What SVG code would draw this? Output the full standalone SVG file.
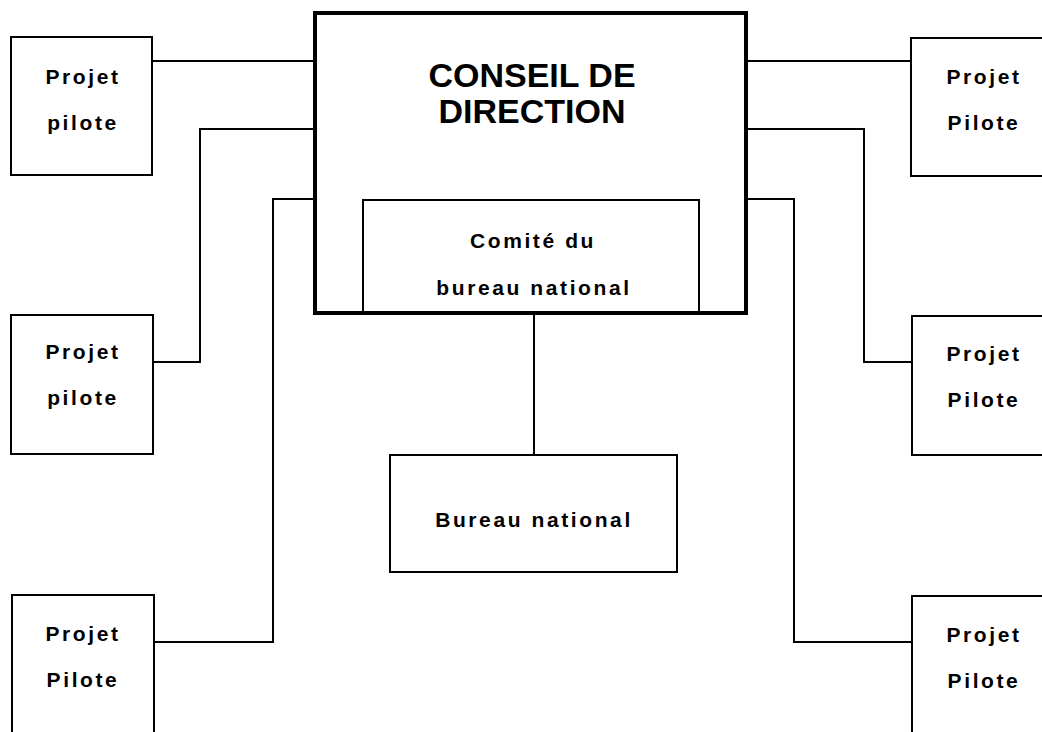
<svg xmlns="http://www.w3.org/2000/svg" width="1042" height="732" viewBox="0 0 1042 732">
<style>
.box{fill:#fff;stroke:#000;stroke-width:2}
.main{fill:#fff;stroke:#000;stroke-width:4}
.conn{fill:none;stroke:#000;stroke-width:2}
.t{font-family:"Liberation Sans",Arial,sans-serif;font-weight:bold;font-size:21px;letter-spacing:2.6px;text-anchor:middle;fill:#000}
.title{font-family:"Liberation Sans",Arial,sans-serif;font-weight:bold;font-size:34px;text-anchor:middle;fill:#000}
</style>
<rect width="1042" height="732" fill="#fff"/>
<g id="connectors">
<path class="conn" d="M152,61 H315"/>
<path class="conn" d="M153,362 H200 V129 H315"/>
<path class="conn" d="M154,642 H273 V199 H315"/>
<path class="conn" d="M746,61 H911"/>
<path class="conn" d="M746,129 H864 V362 H912"/>
<path class="conn" d="M746,199 H794 V642 H912"/>
<path class="conn" d="M534,313 V455"/>
</g>
<g id="conseil">
<rect class="main" x="315" y="13" width="431" height="300"/>
<text class="title" x="532" y="87">CONSEIL DE</text>
<text class="title" x="532" y="123">DIRECTION</text>
</g>
<g id="comite">
<path class="box" d="M363,311 V200 H699 V311"/>
<text class="t" x="533" y="248">Comité du</text>
<text class="t" x="534" y="295">bureau national</text>
</g>
<g id="bureau">
<rect class="box" x="390" y="455" width="287" height="117"/>
<text class="t" x="534" y="527">Bureau national</text>
</g>
<g id="p1">
<rect class="box" x="11" y="37" width="141" height="138"/>
<text class="t" x="83" y="84">Projet</text>
<text class="t" x="83" y="130">pilote</text>
</g>
<g id="p2">
<rect class="box" x="11" y="315" width="142" height="139"/>
<text class="t" x="83" y="359">Projet</text>
<text class="t" x="83" y="405">pilote</text>
</g>
<g id="p3">
<path class="box" d="M12,733 V595 H154 V733"/>
<text class="t" x="83" y="641">Projet</text>
<text class="t" x="83" y="687">Pilote</text>
</g>
<g id="p4">
<path class="box" d="M1043,38 H911 V176 H1043"/>
<text class="t" x="984" y="84">Projet</text>
<text class="t" x="984" y="130">Pilote</text>
</g>
<g id="p5">
<path class="box" d="M1043,316 H912 V455 H1043"/>
<text class="t" x="984" y="361">Projet</text>
<text class="t" x="984" y="407">Pilote</text>
</g>
<g id="p6">
<path class="box" d="M1043,596 H912 V733"/>
<text class="t" x="984" y="642">Projet</text>
<text class="t" x="984" y="688">Pilote</text>
</g>
</svg>
